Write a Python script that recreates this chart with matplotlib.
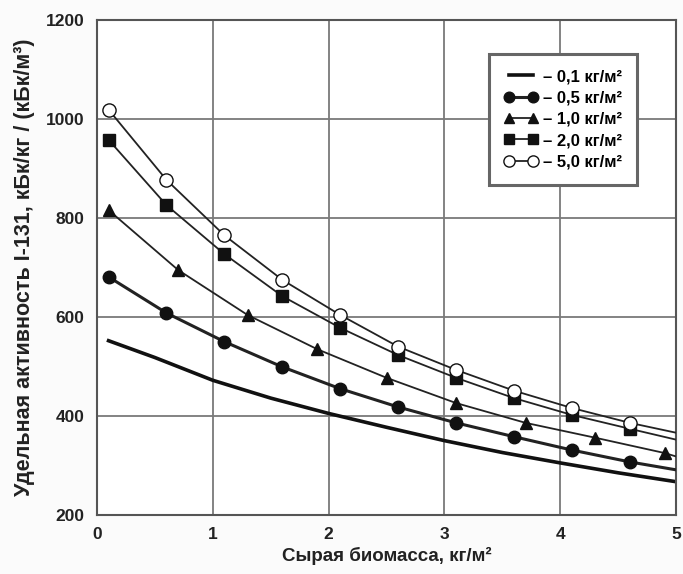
import matplotlib

matplotlib.use("Agg")
import matplotlib.pyplot as plt
from matplotlib import font_manager

# values (x in kg/m2, y in kBq/kg)
X_MARK = [0.1, 0.6, 1.1, 1.6, 2.1, 2.6, 3.1, 3.6, 4.1, 4.6]
X_TRI = [0.1, 0.7, 1.3, 1.9, 2.5, 3.1, 3.7, 4.3, 4.9]
X_LINE = [0.1, 0.5, 1.0, 1.5, 2.0, 2.5, 3.0, 3.5, 4.0, 4.5, 5.0]

Y_01 = [552, 518, 472, 436, 405, 377, 350, 326, 305, 285, 267]
Y_05 = [681, 608, 550, 499, 455, 418, 386, 358, 331, 307]
Y_10 = [816, 695, 604, 535, 477, 426, 386, 356, 325]
Y_20 = [958, 826, 727, 642, 578, 523, 477, 436, 402, 374]
Y_50 = [1019, 877, 765, 675, 604, 540, 493, 451, 416, 386]

# curve values at the right edge (x = 5)
END_05, END_10, END_20, END_50 = 291, 318, 352, 366

LABELS = ["– 0,1 кг/м²", "– 0,5 кг/м²", "– 1,0 кг/м²", "– 2,0 кг/м²", "– 5,0 кг/м²"]

names = {f.name for f in font_manager.fontManager.ttflist}
FONT = "Liberation Sans Narrow" if "Liberation Sans Narrow" in names else "Liberation Sans"
plt.rcParams["font.family"] = [FONT, "DejaVu Sans"]
plt.rcParams["font.weight"] = "bold"
plt.rcParams["axes.labelweight"] = "bold"

TEXT = "#222222"
GRID = "#7a7a7a"
LINE = "#222222"

fig = plt.figure(figsize=(6.83, 5.74), dpi=100)
fig.patch.set_facecolor("#fbfbfb")
ax = fig.add_axes([0.142, 0.103, 0.848, 0.862])
ax.set_facecolor("white")

ax.plot(X_LINE, Y_01, color="#111111", lw=2.6, label=LABELS[0])


def series(xs, ys, end, marker, ms, lw, face, label):
    ax.plot(xs + [5.0], ys + [end], color=LINE, lw=lw, zorder=3)
    ax.plot(xs, ys, linestyle="none", marker=marker, ms=ms, mfc=face, mec="#111111",
            mew=1.0, zorder=4)
    # legend proxy: line with two markers
    ax.plot([], [], color=LINE, lw=lw, marker=marker, ms=ms * 0.85, mfc=face,
            mec="#111111", mew=1.0, label=label)


series(X_MARK, Y_05, END_05, "o", 9, 2.2, "#111111", LABELS[1])
series(X_TRI, Y_10, END_10, "^", 9, 1.3, "#111111", LABELS[2])
series(X_MARK, Y_20, END_20, "s", 9, 1.3, "#111111", LABELS[3])
series(X_MARK, Y_50, END_50, "o", 9.5, 1.3, "white", LABELS[4])

ax.set_xlim(0, 5)
ax.set_ylim(200, 1200)
ax.set_xticks(range(6))
ax.set_yticks(range(200, 1201, 200))
ax.grid(True, color=GRID, lw=1.3)
ax.set_axisbelow(True)
for s in ax.spines.values():
    s.set_color("#555555")
    s.set_linewidth(1.5)
ax.tick_params(length=0, labelsize=12.5, colors=TEXT)
ax.tick_params(axis="y", pad=9)
ax.tick_params(axis="x", pad=9)

ax.set_xlabel("Сырая биомасса, кг/м²", fontsize=13.5, color=TEXT, labelpad=3)
ax.set_ylabel("Удельная активность I-131, кБк/кг / (кБк/м³)", fontsize=15.5, color=TEXT,
              labelpad=8)

leg = ax.legend(loc="upper right", bbox_to_anchor=(0.932, 0.931), numpoints=2,
                handlelength=2.0, handletextpad=0.3, fontsize=12, fancybox=False,
                framealpha=1, borderpad=0.9, labelspacing=0.38, borderaxespad=0)
leg.get_frame().set_edgecolor("#666666")
leg.get_frame().set_linewidth(2.2)

fig.savefig("out.png", facecolor=fig.get_facecolor())
